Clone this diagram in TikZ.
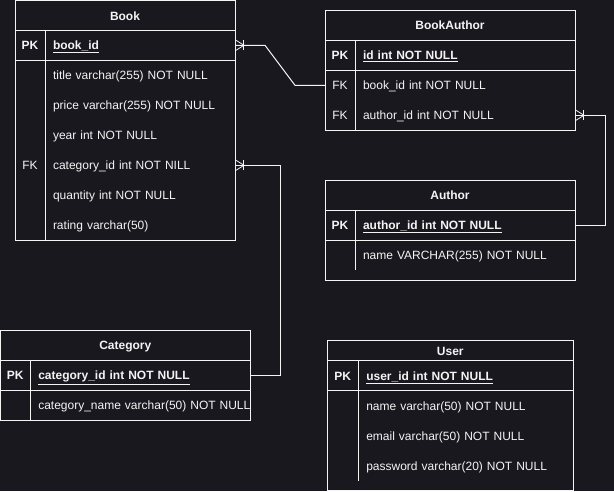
\documentclass[tikz,border=0pt]{standalone}
\usepackage{fontspec}
\setmainfont{Liberation Sans}
\usetikzlibrary{positioning, calc}
\definecolor{canvas}{HTML}{1A181F}
\definecolor{inkwhite}{HTML}{F4F4F4}

\begin{document}
\begin{tikzpicture}[
    x=1pt, y=-1pt,
    every node/.style={text=inkwhite, font=\fontsize{12}{14}\selectfont, outer sep=0pt, text height=9.5pt, text depth=0.5pt},
    titlecell/.style={draw=inkwhite, line width=1pt, minimum height=30pt, inner sep=0pt, anchor=north west, font=\fontsize{12}{14}\selectfont\bfseries},
    field/.style={text width=#1, inner xsep=8pt, inner ysep=0pt, minimum height=30pt, align=left},
    keycell/.style={minimum width=30pt, minimum height=30pt, inner sep=0pt, font=\fontsize{12}{14}\selectfont\bfseries},
    gridline/.style={draw=inkwhite, line width=1pt},
    link/.style={draw=inkwhite, line width=1pt},
    manyend/.pic={\draw[inkwhite, line width=0.8pt] (1,-5) -- (9,0) -- (1,5); \draw[inkwhite, line width=0.8pt] (8,-5) -- (8,5);}
]
\fill[canvas] (0,0) rectangle (614,491);
\useasboundingbox (0,0) rectangle (614,491);

% Book
\node[titlecell, minimum width=220pt, minimum height=29.5pt] (book) at (15,0.8) {Book};
\node[field=174pt, below right=0pt and 30pt of book.south west, font=\fontsize{12}{14}\selectfont\bfseries] (bookid) {\underline{book\_id}};
\node[field=174pt, below=0pt of bookid] (booktitle) {title varchar(255) NOT NULL};
\node[field=174pt, below=0pt of booktitle] (bookprice) {price varchar(255) NOT NULL};
\node[field=174pt, below=0pt of bookprice] (bookyear) {year int NOT NULL};
\node[field=174pt, below=0pt of bookyear] (bookcat) {category\_id int NOT NILL};
\node[field=174pt, below=0pt of bookcat] (bookqty) {quantity int NOT NULL};
\node[field=174pt, below=0pt of bookqty] (bookrating) {rating varchar(50)};
\node[keycell, left=0pt of bookid] (bookpk) {PK};
\node[keycell, left=0pt of bookcat, font=\fontsize{12}{14}\selectfont] (bookfk) {FK};
\draw[gridline] (book.north west) rectangle (bookrating.south east);
\draw[gridline] (book.west |- bookid.south) -- (bookid.south east);
\draw[gridline] (bookid.north west) -- (bookrating.south west);

% BookAuthor
\node[titlecell, minimum width=250pt] (bookauthor) at (325,10.3) {BookAuthor};
\node[field=204pt, below right=0pt and 30pt of bookauthor.south west, font=\fontsize{12}{14}\selectfont\bfseries] (baid) {\underline{id int NOT NULL}};
\node[field=204pt, below=0pt of baid] (babookid) {book\_id int NOT NULL};
\node[field=204pt, below=0pt of babookid] (baauthorid) {author\_id int NOT NULL};
\node[keycell, left=0pt of baid] (bapk) {PK};
\node[keycell, left=0pt of babookid, font=\fontsize{12}{14}\selectfont] (bafkbook) {FK};
\node[keycell, left=0pt of baauthorid, font=\fontsize{12}{14}\selectfont] (bafkauthor) {FK};
\draw[gridline] (bookauthor.north west) rectangle (baauthorid.south east);
\draw[gridline] (bookauthor.west |- baid.south) -- (baid.south east);
\draw[gridline] (baid.north west) -- (baauthorid.south west);

% Author
\node[titlecell, minimum width=250pt] (author) at (325,180.3) {Author};
\node[field=204pt, below right=0pt and 30pt of author.south west, font=\fontsize{12}{14}\selectfont\bfseries] (authorid) {\underline{author\_id int NOT NULL}};
\node[field=204pt, below=0pt of authorid] (authorname) {name VARCHAR(255) NOT NULL};
\node[keycell, left=0pt of authorid] (authorpk) {PK};
\draw[gridline] (author.north west) rectangle ([yshift=-10pt]authorname.south east);
\draw[gridline] (author.west |- authorid.south) -- (authorid.south east);
\draw[gridline] (authorid.north west) -- (authorname.south west);

% Category
\node[titlecell, minimum width=250pt] (category) at (0.3,330.3) {Category};
\node[field=204pt, below right=0pt and 30pt of category.south west, font=\fontsize{12}{14}\selectfont\bfseries] (catid) {\underline{category\_id int NOT NULL}};
\node[field=204pt, below=0pt of catid] (catname) {\mbox{category\_name varchar(50) NOT NULL}};
\node[keycell, left=0pt of catid] (catpk) {PK};
\draw[gridline] (category.north west) rectangle (catname.south east);
\draw[gridline] (category.west |- catid.south) -- (catid.south east);
\draw[gridline] (catid.north west) -- (catname.south west);

% User
\node[titlecell, minimum width=246pt, minimum height=20pt] (user) at (327.3,340.5) {User};
\node[field=199pt, below right=0pt and 31pt of user.south west, font=\fontsize{12}{14}\selectfont\bfseries] (userid) {\underline{user\_id int NOT NULL}};
\node[field=199pt, below=0pt of userid] (username) {name varchar(50) NOT NULL};
\node[field=199pt, below=0pt of username] (useremail) {email varchar(50) NOT NULL};
\node[field=199pt, below=0pt of useremail] (userpass) {password varchar(20) NOT NULL};
\node[keycell, minimum width=31pt, left=0pt of userid] (userpk) {PK};
\draw[gridline] (user.north west) rectangle ([yshift=-10pt]userpass.south east);
\draw[gridline] (user.west |- userid.south) -- (userid.south east);
\draw[gridline] (userid.north west) -- (userpass.south west);

% Relations
\draw[link] (bookid.east) -- ++(30,0) -- ($(bafkbook.west)+(-30,0)$) -- (bafkbook.west);
\draw[link] (bookcat.east) -| ($(catid.east)+(30,0)$) -- (catid.east);
\draw[link] (baauthorid.east) -- ++(30,0) |- (authorid.east);
\pic at (bookid.east) {manyend};
\pic at (bookcat.east) {manyend};
\pic at (baauthorid.east) {manyend};

\end{tikzpicture}
\end{document}
